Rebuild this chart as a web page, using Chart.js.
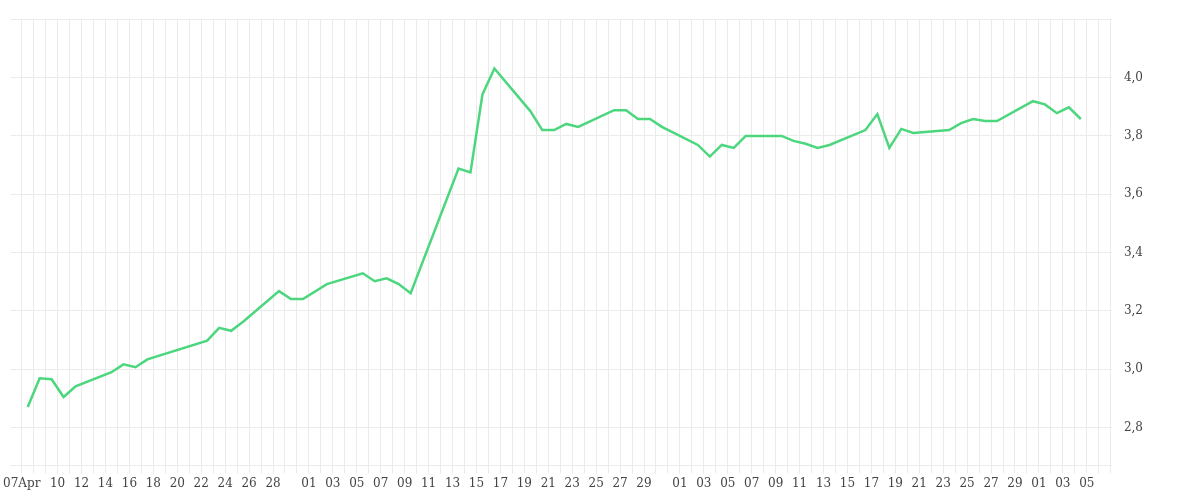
<!DOCTYPE html>
<html><head><meta charset="utf-8">
<script src="https://cdn.jsdelivr.net/npm/chart.js@4"></script>
<style>html,body{margin:0;padding:0;background:#fff}#w{width:1200px;height:500px}</style>
</head><body><div id="w"><canvas id="c"></canvas></div>
<script>
const dates = ["2024-04-07","2024-04-08","2024-04-09","2024-04-10","2024-04-11","2024-04-14","2024-04-15","2024-04-16","2024-04-17","2024-04-22","2024-04-23","2024-04-24","2024-04-25","2024-04-28","2024-04-29","2024-04-30","2024-05-02","2024-05-05","2024-05-06","2024-05-07","2024-05-08","2024-05-09","2024-05-13","2024-05-14","2024-05-15","2024-05-16","2024-05-19","2024-05-20","2024-05-21","2024-05-22","2024-05-23","2024-05-26","2024-05-27","2024-05-28","2024-05-29","2024-05-30","2024-06-02","2024-06-03","2024-06-04","2024-06-05","2024-06-06","2024-06-09","2024-06-10","2024-06-11","2024-06-12","2024-06-13","2024-06-16","2024-06-17","2024-06-18","2024-06-19","2024-06-20","2024-06-23","2024-06-24","2024-06-25","2024-06-26","2024-06-27","2024-06-30","2024-07-01","2024-07-02","2024-07-03","2024-07-04"];
const values = [2.871,2.969,2.966,2.905,2.942,2.990,3.017,3.007,3.034,3.098,3.142,3.132,3.163,3.268,3.241,3.241,3.292,3.329,3.302,3.312,3.292,3.261,3.688,3.675,3.942,4.031,3.885,3.820,3.820,3.841,3.831,3.888,3.888,3.858,3.858,3.831,3.769,3.729,3.769,3.759,3.800,3.800,3.783,3.773,3.759,3.769,3.820,3.875,3.759,3.824,3.810,3.820,3.844,3.858,3.851,3.851,3.919,3.908,3.878,3.898,3.858];
const yTicks = [2.8,3.0,3.2,3.4,3.6,3.8,4.0];
const startDate = "2024-04-07";
const monthNames = ["Jan","Feb","Mar","Apr","May","Jun","Jul","Aug","Sep","Oct","Nov","Dec"];

const DAY = 86400000;
const t0 = Date.parse(startDate+"T00:00:00Z");
const pts = dates.map((d,i)=>({x:(Date.parse(d+"T00:00:00Z")-t0)/DAY+0.5, y:values[i]}));
function dayLabel(v){
  const n = Math.round(v);
  if (n>89) return '';
  const dt = new Date(t0+n*DAY);
  const d = dt.getUTCDate(), m = dt.getUTCMonth();
  const dd = String(d).padStart(2,'0');
  if (n===0) return dd+monthNames[m];
  if (m===3) return (d%2===0 && d>=10 && d<=28) ? dd : '';
  return (d%2===1 && d!==31) ? dd : '';
}
const font = {family:"'DejaVu Serif', serif", size:12};
new Chart(document.getElementById('c'),{
  type:'line',
  data:{datasets:[{data:pts,borderColor:'#4cd67e',borderWidth:2.5,pointRadius:0,tension:0,fill:false}]},
  options:{
    responsive:true,maintainAspectRatio:false,animation:false,
    layout:{padding:{left:4,right:45,top:2,bottom:6}},
    plugins:{legend:{display:false},tooltip:{enabled:false}},
    scales:{
      x:{type:'linear',min:-0.92,max:91.1,
        afterBuildTicks:(ax)=>{const t=[];for(let i=0;i<=91;i++)t.push({value:i});ax.ticks=t;},
        grid:{color:'#ebebeb',tickLength:8,drawTicks:true},border:{color:'#ebebeb'},
        ticks:{autoSkip:false,maxRotation:0,minRotation:0,color:'#444',font,callback:(v)=>dayLabel(v)}},
      y:{position:'right',min:2.67,max:4.2,
        afterBuildTicks:(ax)=>{ax.ticks=yTicks.concat([4.2]).map(v=>({value:v}));},
        grid:{color:'#ebebeb',drawTicks:false},border:{display:false},
        ticks:{padding:12,color:'#444',font,callback:(v)=>yTicks.some(t=>Math.abs(t-v)<1e-6)?v.toFixed(1).replace('.',','):''}}
    }
  }
});
</script></body></html>
